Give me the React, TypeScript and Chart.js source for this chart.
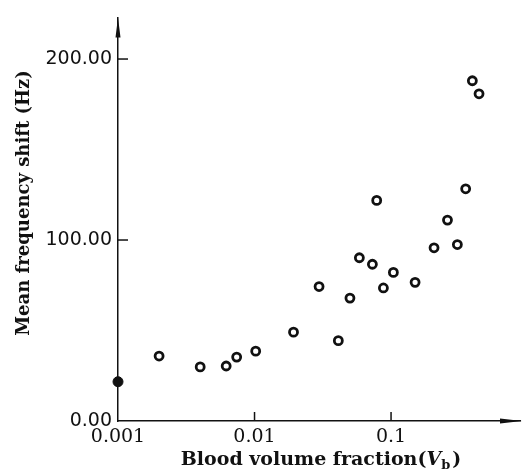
import { useEffect, useRef } from "react";
import { Chart, registerables } from "chart.js";

Chart.register(...registerables);

// Data
const volumeFraction = [0.002, 0.004, 0.0062, 0.0074, 0.0102, 0.0193, 0.0297, 0.0411, 0.05, 0.0586, 0.073, 0.0785, 0.0879, 0.104, 0.15, 0.2065, 0.259, 0.306, 0.352, 0.394, 0.441];
const meanShift = [35.9, 29.9, 30.4, 35.3, 38.6, 49.1, 74.3, 44.4, 67.9, 90.2, 86.6, 121.9, 73.5, 82.1, 76.6, 95.7, 111.0, 97.5, 128.3, 188.0, 180.8];
const baselineFraction = [0.001];
const baselineShift = [21.7];

const xTickValues = [0.001, 0.01, 0.1];
const xTickLabels = ["0.001", "0.01", "0.1"];
const yTickValues = [0, 100, 200];
const yTickLabels = ["0.00", "100.00", "200.00"];

const xMin = 0.001;
const xMax = 0.88;
const yMin = 0;
const yMax = 223;

const yTitle = "Mean frequency shift (Hz)";
const xTitleMain = "Blood volume fraction(";
const xTitleVar = "V";
const xTitleSub = "b";
const xTitleEnd = ")";

const INK = "#111111";

const decorPlugin = {
  id: "axisDecor",
  afterDraw(chart: any) {
    const ctx = chart.ctx as CanvasRenderingContext2D;
    const area = chart.chartArea;
    const xs = chart.scales.x;
    const ys = chart.scales.y;
    ctx.save();
    ctx.strokeStyle = INK;
    ctx.fillStyle = INK;
    ctx.lineWidth = 1.5;

    // inward tick marks
    yTickValues.forEach((v) => {
      if (v === yMin) return;
      const py = ys.getPixelForValue(v);
      ctx.beginPath();
      ctx.moveTo(area.left, py);
      ctx.lineTo(area.left + 10, py);
      ctx.stroke();
    });
    xTickValues.forEach((v) => {
      if (v === xMin) return;
      const px = xs.getPixelForValue(v);
      ctx.beginPath();
      ctx.moveTo(px, area.bottom);
      ctx.lineTo(px, area.bottom - 9);
      ctx.stroke();
    });

    // arrow heads
    ctx.beginPath();
    ctx.moveTo(area.left, area.top);
    ctx.lineTo(area.left - 2.5, area.top + 20);
    ctx.lineTo(area.left + 2.5, area.top + 20);
    ctx.closePath();
    ctx.fill();

    ctx.beginPath();
    ctx.moveTo(area.right + 2, area.bottom);
    ctx.lineTo(area.right - 20, area.bottom - 2.5);
    ctx.lineTo(area.right - 20, area.bottom + 2.5);
    ctx.closePath();
    ctx.fill();

    // y title
    ctx.save();
    ctx.translate(24, 203);
    ctx.rotate(-Math.PI / 2);
    ctx.font = "bold 18px 'DejaVu Serif'";
    ctx.textAlign = "center";
    ctx.textBaseline = "middle";
    ctx.fillText(yTitle, 0, 0);
    ctx.restore();

    // x title with italic V and subscript b
    const fMain = "bold 19px 'DejaVu Serif'";
    const fVar = "italic bold 19px 'DejaVu Serif'";
    const fSub = "bold 13px 'DejaVu Serif'";
    ctx.textBaseline = "alphabetic";
    ctx.textAlign = "left";
    ctx.font = fMain;
    const w1 = ctx.measureText(xTitleMain).width;
    const w4 = ctx.measureText(xTitleEnd).width;
    ctx.font = fVar;
    const w2 = ctx.measureText(xTitleVar).width;
    ctx.font = fSub;
    const w3 = ctx.measureText(xTitleSub).width;
    const total = w1 + w2 + w3 + w4 + 2;
    let x = 321 - total / 2;
    const base = 465;
    ctx.font = fMain;
    ctx.fillText(xTitleMain, x, base);
    x += w1;
    ctx.font = fVar;
    ctx.fillText(xTitleVar, x, base);
    x += w2;
    ctx.font = fSub;
    ctx.fillText(xTitleSub, x, base + 4);
    x += w3 + 2;
    ctx.font = fMain;
    ctx.fillText(xTitleEnd, x, base);
    ctx.restore();
  },
};

export default function App() {
  const ref = useRef<HTMLCanvasElement | null>(null);
  useEffect(() => {
    if (!ref.current) return;
    const chart = new Chart(ref.current, {
      type: "scatter",
      data: {
        datasets: [
          {
            label: "Mean frequency shift",
            data: volumeFraction.map((v, i) => ({ x: v, y: meanShift[i] })),
            pointRadius: 4,
            pointBorderWidth: 2.8,
            pointBorderColor: INK,
            pointBackgroundColor: "#ffffff",
            pointHoverRadius: 4,
            clip: false,
          },
          {
            label: "Baseline",
            data: baselineFraction.map((v, i) => ({ x: v, y: baselineShift[i] })),
            pointRadius: 5,
            pointBorderWidth: 1,
            pointBorderColor: INK,
            pointBackgroundColor: INK,
            clip: false,
          },
        ],
      },
      options: {
        responsive: false,
        animation: false,
        layout: { padding: { top: 10, right: 8, left: 0, bottom: 0 } },
        plugins: { legend: { display: false }, tooltip: { enabled: false } },
        scales: {
          x: {
            type: "logarithmic",
            min: xMin,
            max: xMax,
            grid: { display: false, drawTicks: false },
            border: { display: true, color: INK, width: 1.5 },
            afterBuildTicks: (s: any) => {
              s.ticks = xTickValues.map((v) => ({ value: v }));
            },
            afterFit: (s: any) => {
              s.height = 51;
            },
            ticks: {
              color: INK,
              padding: 5,
              maxRotation: 0,
              autoSkip: false,
              font: { family: "'DejaVu Serif'", size: 19 },
              callback: (v: any) => {
                const i = xTickValues.indexOf(Number(v));
                return i >= 0 ? xTickLabels[i] : "";
              },
            },
          },
          y: {
            type: "linear",
            min: yMin,
            max: yMax,
            grid: { display: false, drawTicks: false },
            border: { display: true, color: INK, width: 1.5 },
            afterBuildTicks: (s: any) => {
              s.ticks = yTickValues.map((v) => ({ value: v }));
            },
            afterFit: (s: any) => {
              s.width = 118;
            },
            ticks: {
              color: INK,
              padding: 6,
              autoSkip: false,
              font: { family: "'DejaVu Sans'", size: 19 },
              callback: (v: any) => {
                const i = yTickValues.indexOf(Number(v));
                return i >= 0 ? yTickLabels[i] : "";
              },
            },
          },
        },
      },
      plugins: [decorPlugin],
    });
    return () => chart.destroy();
  }, []);
  return (
    <canvas
      ref={ref}
      width={528}
      height={472}
      style={{ position: "fixed", left: 0, top: 0, background: "#ffffff" }}
    />
  );
}
